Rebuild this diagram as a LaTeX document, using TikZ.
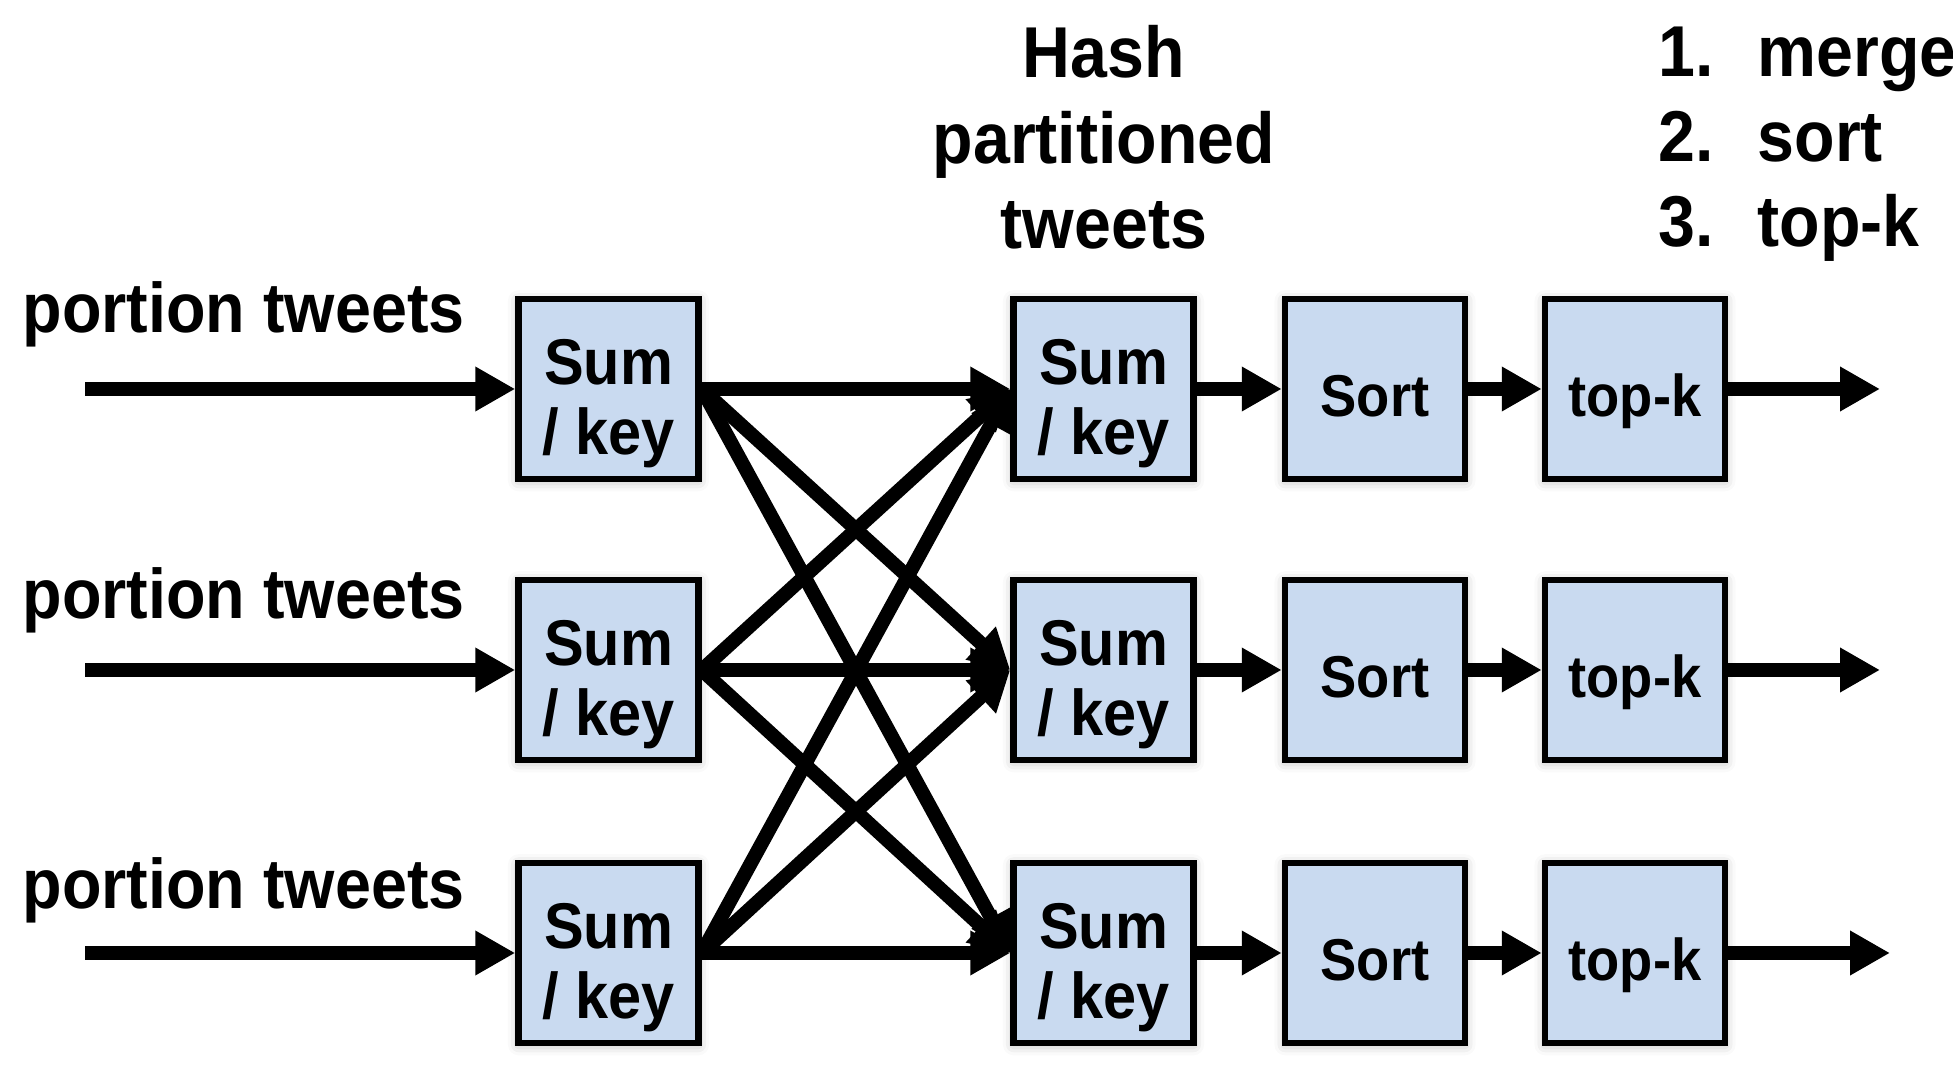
\documentclass[tikz,border=0pt]{standalone}
\usepackage{fontspec}
\setmainfont[FakeStretch=0.92]{Liberation Sans}
\usetikzlibrary{arrows.meta,shadows.blur}

\definecolor{boxblue}{RGB}{201,218,240}

\tikzset{
    opbox/.style={draw, line width=1.85pt, fill=boxblue, minimum width=1.8cm, minimum height=1.8cm,
        inner sep=0pt, align=center, font=\bfseries\fontsize{18.4}{20}\selectfont,
        text height=1.44cm, text depth=0.13cm,
        blur shadow={shadow xshift=0pt, shadow yshift=-0.5pt, shadow blur radius=3pt, shadow opacity=30}},
    smallbox/.style={opbox, font=\bfseries\fontsize{16.8}{18}\selectfont, text height=0.71cm, text depth=0.15cm},
    flow/.style={line width=4pt, -{Triangle[length=0.4cm, width=0.42cm]}},
    inlabel/.style={anchor=base west, inner sep=0pt, font=\bfseries\fontsize{20}{22}\selectfont},
    bigtext/.style={inner sep=0pt, font=\bfseries\fontsize{20.5}{24.3}\selectfont}
}

\begin{document}
\begin{tikzpicture}
        \useasboundingbox (0, 0) rectangle (19.53, -10.69);

        % Titles
        \node[bigtext, align=center, anchor=north] (hash) at (11.04, -0.25) {Hash\\partitioned\\tweets};
        \node[bigtext, anchor=base west] (n1) at (16.58, -0.77) {1.};
        \node[bigtext, anchor=base west] (w1) at (17.57, -0.77) {merge};
        \node[bigtext, anchor=base west] (n2) at (16.58, -1.62) {2.};
        \node[bigtext, anchor=base west] (w2) at (17.57, -1.62) {sort};
        \node[bigtext, anchor=base west] (n3) at (16.58, -2.47) {3.};
        \node[bigtext, anchor=base west] (w3) at (17.57, -2.47) {top-k};

        % Input labels
        \node[inlabel] (lab1) at (0.22, -3.33) {portion tweets};
        \node[inlabel] (lab2) at (0.22, -6.19) {portion tweets};
        \node[inlabel] (lab3) at (0.22, -9.09) {portion tweets};

        % First stage
        \node[opbox] (a1) at (6.085, -3.89) {Sum\\/ key};
        \node[opbox] (a2) at (6.085, -6.70) {Sum\\/ key};
        \node[opbox] (a3) at (6.085, -9.53) {Sum\\/ key};

        % Second stage
        \node[opbox] (b1) at (11.035, -3.89) {Sum\\/ key};
        \node[opbox] (b2) at (11.035, -6.70) {Sum\\/ key};
        \node[opbox] (b3) at (11.035, -9.53) {Sum\\/ key};

        % Sort
        \node[smallbox] (c1) at (13.75, -3.89) {Sort};
        \node[smallbox] (c2) at (13.75, -6.70) {Sort};
        \node[smallbox] (c3) at (13.75, -9.53) {Sort};

        % top-k
        \node[smallbox] (d1) at (16.35, -3.89) {top-k};
        \node[smallbox] (d2) at (16.35, -6.70) {top-k};
        \node[smallbox] (d3) at (16.35, -9.53) {top-k};

        % Free ends
        \coordinate (in1) at (0.85, -3.89);
        \coordinate (in2) at (0.85, -6.70);
        \coordinate (in3) at (0.85, -9.53);
        \coordinate (out1) at (18.80, -3.89);
        \coordinate (out2) at (18.80, -6.70);
        \coordinate (out3) at (18.90, -9.53);

        % Inputs
        \draw[flow] (in1) -- (a1);
        \draw[flow] (in2) -- (a2);
        \draw[flow] (in3) -- (a3);

        % Shuffle
        \draw[flow] (a1.east) -- (b1.west);
        \draw[flow] (a1.east) -- (b2.west);
        \draw[flow] (a1.east) -- (b3.west);
        \draw[flow] (a2.east) -- (b1.west);
        \draw[flow] (a2.east) -- (b2.west);
        \draw[flow] (a2.east) -- (b3.west);
        \draw[flow] (a3.east) -- (b1.west);
        \draw[flow] (a3.east) -- (b2.west);
        \draw[flow] (a3.east) -- (b3.west);

        % Sort and top-k
        \draw[flow] (b1) -- (c1);
        \draw[flow] (b2) -- (c2);
        \draw[flow] (b3) -- (c3);
        \draw[flow] (c1) -- (d1);
        \draw[flow] (c2) -- (d2);
        \draw[flow] (c3) -- (d3);

        % Outputs
        \draw[flow] (d1) -- (out1);
        \draw[flow] (d2) -- (out2);
        \draw[flow] (d3) -- (out3);
    \end{tikzpicture}
\end{document}
